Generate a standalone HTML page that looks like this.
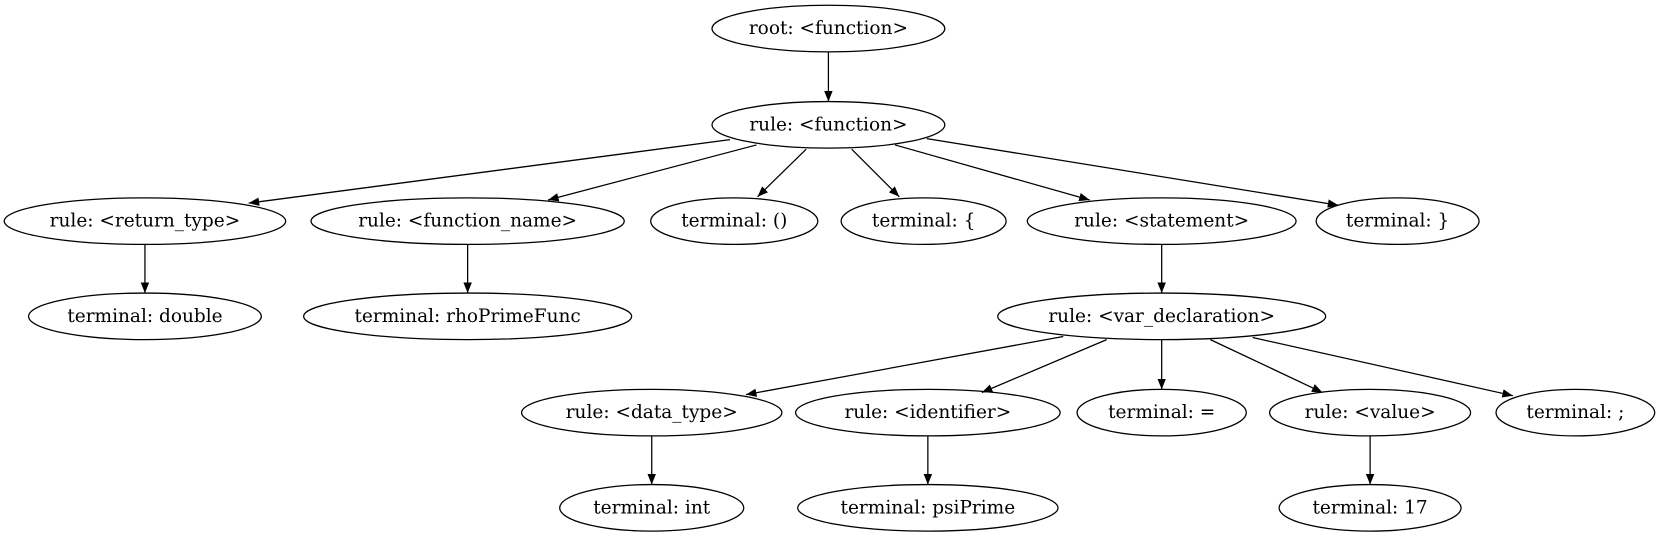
<!DOCTYPE html>
<html><head><meta charset="utf-8"><style>
html,body{margin:0;padding:0;background:#fff}
svg text{font-family:"DejaVu Serif","Liberation Serif",serif;font-size:17.5px;text-anchor:middle;dominant-baseline:central}
</style></head><body>
<svg width="1659" height="539" viewBox="0 0 1659 539" xmlns="http://www.w3.org/2000/svg">
<defs><marker id="a" markerWidth="10" markerHeight="8" refX="10" refY="4" orient="auto" markerUnits="userSpaceOnUse"><polygon points="0,0 10,4 0,8" fill="#000"/></marker></defs>
<g transform="scale(1.058)">
<g fill="none" stroke="#000" stroke-width="1.2">
<ellipse cx="783" cy="27" rx="110" ry="22"/>
<ellipse cx="783" cy="118" rx="110" ry="22"/>
<ellipse cx="137" cy="209" rx="133" ry="22"/>
<ellipse cx="442" cy="209" rx="148" ry="22"/>
<ellipse cx="694" cy="209" rx="79" ry="22"/>
<ellipse cx="873" cy="209" rx="78" ry="22"/>
<ellipse cx="1098" cy="209" rx="127" ry="22"/>
<ellipse cx="1321" cy="209" rx="77" ry="22"/>
<ellipse cx="137" cy="299" rx="110" ry="22"/>
<ellipse cx="442" cy="299" rx="155" ry="22"/>
<ellipse cx="1098" cy="299" rx="155" ry="22"/>
<ellipse cx="616" cy="390" rx="123" ry="22"/>
<ellipse cx="877" cy="390" rx="125" ry="22"/>
<ellipse cx="1098" cy="390" rx="80" ry="22"/>
<ellipse cx="1295" cy="390" rx="95" ry="22"/>
<ellipse cx="1489" cy="390" rx="75" ry="22"/>
<ellipse cx="616" cy="480" rx="87" ry="22"/>
<ellipse cx="877" cy="480" rx="123" ry="22"/>
<ellipse cx="1295" cy="480" rx="86" ry="22"/>
</g>
<g stroke="#000" stroke-width="1.2" marker-end="url(#a)">
<line x1="783" y1="49" x2="783" y2="96"/>
<line x1="690" y1="132" x2="235" y2="192"/>
<line x1="715" y1="137" x2="518" y2="189"/>
<line x1="762" y1="141" x2="716" y2="186"/>
<line x1="805" y1="141" x2="850" y2="186"/>
<line x1="846" y1="137" x2="1030" y2="189"/>
<line x1="876" y1="131" x2="1265" y2="194"/>
<line x1="137" y1="231" x2="137" y2="277"/>
<line x1="442" y1="231" x2="442" y2="277"/>
<line x1="1098" y1="231" x2="1098" y2="277"/>
<line x1="1005" y1="318" x2="705" y2="373"/>
<line x1="1046" y1="321" x2="928" y2="371"/>
<line x1="1098" y1="321" x2="1098" y2="368"/>
<line x1="1144" y1="321" x2="1250" y2="371"/>
<line x1="1184" y1="319" x2="1430" y2="374"/>
<line x1="616" y1="412" x2="616" y2="458"/>
<line x1="877" y1="412" x2="877" y2="458"/>
<line x1="1295" y1="412" x2="1295" y2="458"/>
</g>
<g fill="#000">
<text x="783" y="27">root: &lt;function&gt;</text>
<text x="783" y="118">rule: &lt;function&gt;</text>
<text x="137" y="209">rule: &lt;return_type&gt;</text>
<text x="442" y="209">rule: &lt;function_name&gt;</text>
<text x="694" y="209">terminal: ()</text>
<text x="873" y="209">terminal: {</text>
<text x="1098" y="209">rule: &lt;statement&gt;</text>
<text x="1321" y="209">terminal: }</text>
<text x="137" y="299">terminal: double</text>
<text x="442" y="299">terminal: rhoPrimeFunc</text>
<text x="1098" y="299">rule: &lt;var_declaration&gt;</text>
<text x="616" y="390">rule: &lt;data_type&gt;</text>
<text x="877" y="390">rule: &lt;identifier&gt;</text>
<text x="1098" y="390">terminal: =</text>
<text x="1295" y="390">rule: &lt;value&gt;</text>
<text x="1489" y="390">terminal: ;</text>
<text x="616" y="480">terminal: int</text>
<text x="877" y="480">terminal: psiPrime</text>
<text x="1295" y="480">terminal: 17</text>
</g>
</g>
</svg>
</body></html>
